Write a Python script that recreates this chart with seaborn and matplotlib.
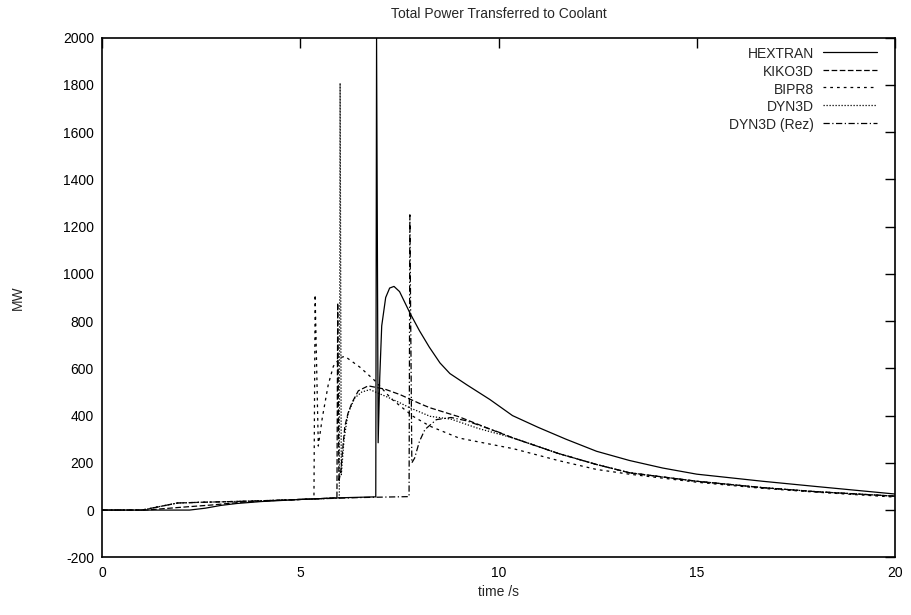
import numpy as np
import pandas as pd
import matplotlib
matplotlib.use("Agg")
import matplotlib.pyplot as plt
import seaborn as sns

# ---- data ----
hextran_t = [0, 1.0, 2.2, 2.6, 3.0, 3.4, 4.0, 5.0, 6.0, 6.90, 6.92, 6.96, 7.0, 7.05, 7.15, 7.25, 7.36, 7.5,
             7.76, 8.0, 8.25, 8.52, 8.77, 9.2, 9.78, 10.35, 11.0, 11.7, 12.47, 13.3, 14.14, 15.0, 16.66, 18.0, 20.0]
hextran_p = [0, 0, 0, 8, 20, 28, 36, 45, 52, 56, 2000, 285, 560, 780, 900, 940, 947, 925,
             835, 760, 690, 623, 578, 530, 468, 400, 350, 300, 249, 210, 178, 152, 122, 100, 68]

kiko_t = [0, 1.1, 2.0, 2.8, 3.5, 4.5, 5.3, 5.92, 5.94, 5.97, 6.02, 6.08, 6.12, 6.2, 6.3, 6.46, 6.71, 7.13,
          7.51, 8.05, 8.27, 9.0, 9.81, 10.35, 11.5, 12.47, 13.3, 15.0, 16.66, 18.0, 20.0]
kiko_p = [0, 0, 12, 22, 33, 42, 47, 52, 877, 120, 170, 285, 355, 410, 455, 505, 526, 512,
          489, 448, 433, 395, 341, 306, 240, 193, 158, 122, 95, 78, 59]

bipr_t = [0, 1.0, 1.9, 2.5, 3.5, 4.5, 5.34, 5.37, 5.45, 5.55, 5.7, 5.83, 6.0, 6.12, 6.5, 6.87, 7.3, 7.84,
          8.27, 9.0, 10.06, 10.37, 11.5, 12.47, 13.3, 15.0, 16.66, 18.0, 20.0]
bipr_p = [0, 0, 30, 33, 37, 42, 47, 912, 271, 390, 530, 609, 645, 651, 605, 549, 470, 397,
          355, 305, 270, 260, 210, 172, 152, 118, 92, 76, 55]

dyn_t = [0, 1.0, 1.9, 2.5, 3.5, 4.5, 5.5, 5.98, 6.0, 6.03, 6.1, 6.2, 6.37, 6.55, 6.75, 7.2, 7.51, 7.76,
         8.27, 8.8, 9.5, 10.35, 11.5, 12.47, 13.3, 15.0, 16.66, 18.0, 20.0]
dyn_p = [0, 0, 30, 33, 37, 42, 48, 52, 1808, 150, 300, 410, 475, 500, 510, 478, 454, 433,
         397, 385, 345, 306, 240, 193, 158, 122, 95, 78, 59]

rez_t = [0, 1.0, 1.9, 2.5, 3.5, 4.5, 5.5, 6.5, 7.74, 7.76, 7.81, 7.88, 8.0, 8.14, 8.43, 8.8, 9.19,
         10.0, 10.35, 11.5, 12.47, 13.3, 15.0, 16.66, 18.0, 20.0]
rez_p = [0, 0, 30, 33, 37, 42, 48, 53, 57, 1250, 200, 220, 290, 341, 383, 392, 378,
         330, 306, 240, 193, 158, 122, 95, 78, 59]

series_names = ["HEXTRAN", "KIKO3D", "BIPR8", "DYN3D", "DYN3D (Rez)"]
series_t = [hextran_t, kiko_t, bipr_t, dyn_t, rez_t]
series_p = [hextran_p, kiko_p, bipr_p, dyn_p, rez_p]
styles = ["-", (0, (4.5, 2)), (0, (2.2, 3.2)), (0, (1, 1.4)), (0, (5, 2, 1, 2))]

x_ticks = [0, 5, 10, 15, 20]
y_ticks = [-200, 0, 200, 400, 600, 800, 1000, 1200, 1400, 1600, 1800, 2000]

# ---- plotting ----
sns.set_style("white")
plt.rcParams["font.family"] = ["Liberation Sans", "DejaVu Sans"]
plt.rcParams["axes.unicode_minus"] = False
plt.rcParams["xtick.direction"] = "in"
plt.rcParams["ytick.direction"] = "in"

fig = plt.figure(figsize=(9.11, 6.15), dpi=100)
ax = fig.add_axes([0.1123, 0.0938, 0.8701, 0.8449])

for name, t, p, ls in zip(series_names, series_t, series_p, styles):
    df = pd.DataFrame({"t": t, "P": p})
    sns.lineplot(data=df, x="t", y="P", ax=ax, sort=False, estimator=None,
                 color="black", linewidth=0.9, linestyle=ls, label=name)

ax.set_xlim(0, 20)
ax.set_ylim(-200, 2000)
ax.set_xticks(x_ticks)
ax.set_yticks(y_ticks)
ax.tick_params(axis="both", which="both", direction="in", length=7, width=1,
               top=True, right=True, labelsize=10, pad=6, colors="black")
for s in ax.spines.values():
    s.set_linewidth(1.2)
    s.set_color("black")

ax.set_title("Total Power Transferred to Coolant", fontsize=10, pad=14)
ax.set_xlabel("time /s", fontsize=10, labelpad=4)
ax.set_ylabel("MW", fontsize=10, labelpad=27)

leg = ax.legend(loc="upper right", bbox_to_anchor=(0.977, 0.982), frameon=False,
                markerfirst=False, fontsize=10, handlelength=3.9, labelspacing=0.27,
                handletextpad=0.6, borderaxespad=0, borderpad=0)
leg._legend_box.align = "right"
for vp in leg._legend_handle_box.get_children():
    for c in vp.get_children():
        if hasattr(c, "align"):
            c.align = "right"

fig.savefig("out.png", dpi=100)
